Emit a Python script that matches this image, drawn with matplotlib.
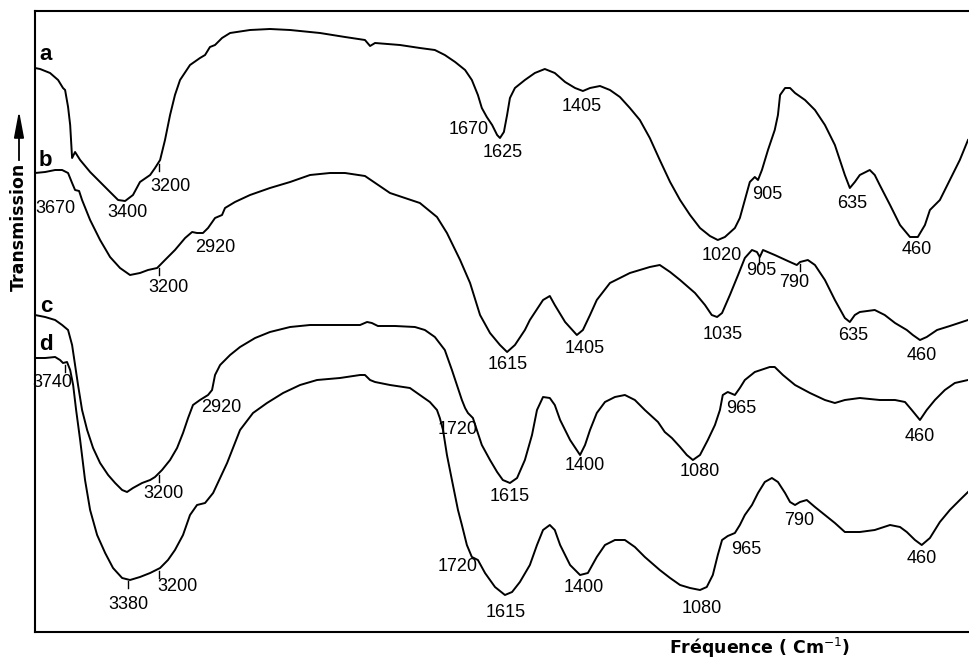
import numpy as np
import matplotlib.pyplot as plt

# --- IR spectra: wavenumber (cm-1) vs transmission (arb., curves offset) ---
wn_a = [3909, 3880, 3823, 3777, 3749, 3737, 3720, 3708, 3703, 3697, 3680, 3651, 3594, 3537,
        3480, 3434, 3394, 3349, 3309, 3251, 3223, 3194, 3166, 3137, 3109, 3080, 3023, 2966,
        2937, 2909, 2880, 2840, 2794, 2680, 2566, 2451, 2337, 2280, 2137, 2023, 1997, 1983,
        1913, 1857, 1815, 1787, 1758, 1730, 1711, 1694, 1683, 1669, 1654, 1640, 1632, 1621,
        1612, 1604, 1590, 1562, 1534, 1506, 1478, 1449, 1421, 1399, 1379, 1351, 1323, 1295,
        1267, 1239, 1211, 1183, 1154, 1126, 1098, 1070, 1042, 1020, 1000, 972, 958, 944, 930,
        916, 907, 896, 879, 860, 851, 845, 831, 817, 803, 775, 747, 719, 691, 663, 649, 635,
        621, 593, 579, 565, 536, 508, 480, 458, 438, 424, 396, 368, 340, 317]
tr_a = [564, 563, 559, 552, 544, 542, 525, 507, 492, 474, 480, 472, 460, 450,
        440, 432, 431, 437, 450, 457, 464, 472, 492, 517, 537, 552, 567, 574,
        577, 585, 587, 594, 599, 602, 603, 602, 600, 599, 595, 592, 586, 589,
        587, 584, 582, 577, 570, 562, 552, 537, 524, 515, 507, 497, 494, 500,
        517, 534, 544, 552, 559, 563, 559, 550, 544, 541, 544, 546, 542, 535,
        524, 512, 494, 472, 450, 432, 417, 404, 396, 392, 395, 404, 414, 432, 450,
        455, 452, 462, 482, 502, 517, 537, 544, 544, 539, 532, 522, 507, 487, 457, 444, 450,
        457, 462, 457, 447, 427, 407, 395, 395, 407, 422, 432, 452, 472, 492]

wn_b = [3909, 3851, 3794, 3754, 3720, 3697, 3680, 3657, 3640, 3594, 3537, 3480, 3423, 3366,
        3309, 3263, 3211, 3166, 3109, 3051, 3011, 2983, 2949, 2920, 2880, 2840, 2823, 2766,
        2680, 2566, 2451, 2337, 2223, 2137, 2023, 1941, 1857, 1809, 1781, 1744, 1716, 1688,
        1660, 1632, 1612, 1590, 1562, 1548, 1511, 1492, 1478, 1449, 1416, 1399, 1379, 1360,
        1323, 1267, 1211, 1183, 1154, 1126, 1084, 1056, 1037, 1022, 1008, 986, 963, 944, 924,
        910, 902, 893, 860, 817, 798, 789, 767, 747, 719, 691, 663, 649, 635, 621, 579, 551,
        522, 489, 472, 452, 433, 404, 368, 317]
tr_b = [459, 460, 462, 462, 459, 449, 442, 441, 432, 412, 392, 375, 364, 357,
        359, 362, 364, 372, 382, 394, 400, 399, 399, 404, 414, 417, 424, 430,
        437, 444, 450, 457, 459, 459, 456, 439, 429, 415, 399, 372, 349, 317,
        299, 287, 280, 287, 302, 312, 332, 336, 327, 310, 297, 302, 317, 332,
        349, 359, 365, 367, 360, 352, 339, 327, 317, 315, 319, 337, 357, 374, 382,
        380, 375, 382, 377, 370, 367, 370, 372, 367, 352, 332, 314, 310, 317, 320, 322, 317,
        309, 302, 297, 292, 295, 302, 306, 312]

wn_c = [3909, 3851, 3794, 3754, 3720, 3697, 3680, 3663, 3640, 3611, 3577, 3537, 3491, 3451,
        3411, 3383, 3349, 3297, 3251, 3223, 3183, 3137, 3097, 3063, 3034, 3006, 2966, 2920,
        2897, 2880, 2851, 2794, 2737, 2651, 2566, 2451, 2337, 2166, 2051, 2011, 1992, 1975,
        1927, 1871, 1843, 1815, 1787, 1767, 1753, 1739, 1730, 1722, 1708, 1697, 1683, 1660,
        1640, 1624, 1604, 1584, 1562, 1542, 1528, 1511, 1492, 1478, 1463, 1435, 1407, 1393,
        1379, 1360, 1337, 1309, 1281, 1253, 1225, 1188, 1169, 1149, 1126, 1107, 1090, 1070,
        1048, 1028, 1014, 1006, 992, 972, 958, 944, 916, 874, 860, 837, 803, 761, 719, 691,
        663, 621, 565, 522, 494, 475, 452, 433, 410, 382, 354, 317]
tr_c = [317, 315, 312, 307, 302, 287, 267, 247, 222, 202, 184, 169, 157, 149,
        142, 140, 144, 149, 152, 155, 162, 172, 184, 199, 214, 227, 232, 237,
        242, 257, 267, 277, 285, 294, 300, 305, 307, 307, 307, 310, 309, 306,
        306, 305, 302, 295, 282, 262, 247, 232, 224, 219, 214, 202, 187, 172,
        160, 152, 149, 154, 172, 197, 222, 235, 234, 227, 212, 192, 177, 187,
        202, 219, 230, 235, 237, 232, 222, 210, 200, 194, 185, 177, 172, 177,
        192, 207, 222, 237, 240, 237, 244, 252, 260, 265, 265, 257, 247, 239, 232, 229,
        232, 234, 232, 232, 230, 222, 212, 222, 232, 242, 249, 252]

wn_d = [3909, 3851, 3794, 3766, 3749, 3726, 3708, 3691, 3674, 3651, 3623, 3594, 3554, 3508,
        3463, 3411, 3366, 3309, 3251, 3194, 3149, 3109, 3063, 3023, 2983, 2937, 2891, 2811,
        2737, 2663, 2583, 2491, 2394, 2297, 2166, 2051, 2023, 1997, 1983, 1941, 1885, 1857,
        1829, 1809, 1801, 1792, 1781, 1767, 1750, 1739, 1725, 1711, 1694, 1674, 1646, 1618,
        1598, 1576, 1548, 1528, 1511, 1492, 1478, 1463, 1435, 1407, 1385, 1360, 1337, 1309,
        1281, 1253, 1225, 1183, 1154, 1126, 1098, 1070, 1051, 1034, 1020, 1008, 992, 972,
        958, 944, 924, 907, 888, 868, 851, 831, 817, 803, 789, 770, 747, 719, 691, 663, 621,
        579, 536, 508, 489, 466, 447, 424, 396, 368, 340, 317]
tr_d = [274, 274, 275, 272, 269, 270, 262, 247, 222, 192, 152, 122, 97, 79,
        64, 54, 52, 55, 59, 64, 72, 82, 97, 117, 127, 129, 139, 169,
        202, 219, 229, 239, 247, 252, 254, 257, 257, 252, 250, 247, 244, 237,
        230, 222, 214, 202, 177, 152, 122, 107, 87, 75, 72, 59, 45, 37,
        40, 50, 67, 87, 102, 107, 102, 87, 67, 57, 59, 75, 87, 92,
        92, 85, 75, 62, 54, 47, 44, 42, 45, 57, 77, 92, 96, 99,
        107, 117, 127, 139, 150, 154, 150, 139, 130, 127, 130, 132, 125, 117, 109, 100, 100,
        102, 107, 105, 100, 92, 87, 94, 110, 122, 132, 140]

names = ['a', 'b', 'c', 'd']
spectra = [(wn_a, tr_a), (wn_b, tr_b), (wn_c, tr_c), (wn_d, tr_d)]

# band positions written on each curve
bands_a = [3400, 3200, 1670, 1625, 1405, 1020, 905, 635, 460]
bands_b = [3670, 3200, 2920, 1615, 1405, 1035, 905, 790, 635, 460]
bands_c = [3200, 2920, 1720, 1615, 1400, 1080, 965, 460]
bands_d = [3740, 3380, 3200, 1720, 1615, 1400, 1080, 965, 790, 460]
bands = [bands_a, bands_b, bands_c, bands_d]
ticked = [[3200], [3200, 905, 790], [3200], [3740, 3380, 3200]]

# label offsets (pixels) from the curve point
offs = [
    [(3, -12), (11, -25), (-18, -13), (0, -18), (1, -16), (4, -16), (9, -16), (-3, -22), (0, -13)],
    [(-21, -18), (9, -21), (7, -20), (2, -14), (4, -17), (10, -19), (3, -15), (-5, -20), (-2, -20), (5, -17)],
    [(4, -21), (13, -13), (-11, -16), (4, -15), (2, -15), (3, -14), (4, -17), (3, -20)],
    [(-12, -20), (1, -25), (18, -18), (-11, -17), (0, -18), (1, -13), (5, -19), (9, -20), (0, -18), (5, -17)],
]
letter_offs = [(11, 14), (10, 13), (11, 9), (11, 13)]

# wavenumber axis: 4000-2000 compressed, 2000-0 at twice the scale
brk_wn = [0, 2000, 4000]
brk_v = [-1081, -369, -19]


def fwd(w):
    return np.interp(w, brk_wn, brk_v)


def inv(v):
    return np.interp(v, brk_v, brk_wn)


fig = plt.figure(figsize=(9.7, 6.61), dpi=100)
ax = fig.add_axes([35 / 970, 29 / 661, 933 / 970, 621 / 661])
ax.set_xscale('function', functions=(fwd, inv))
ax.set_xlim(3909, 317)
ax.set_ylim(0, 621)
ax.set_xticks([])
ax.set_yticks([])
ax.spines['right'].set_visible(False)
for s in ['left', 'top', 'bottom']:
    ax.spines[s].set_linewidth(1.5)

num_font = dict(family='Liberation Sans', fontsize=13, color='black')

for name, (wn, tr), bl, ol, tk, lo in zip(names, spectra, bands, offs, ticked, letter_offs):
    ax.plot(wn, tr, color='black', lw=1.4)
    ax.annotate(name, xy=(wn[0], tr[0]), xytext=lo, textcoords='offset pixels',
                ha='center', va='center', family='Liberation Sans', fontsize=16,
                fontweight='bold')
    w_inc = np.array(wn[::-1], dtype=float)
    t_inc = np.array(tr[::-1], dtype=float)
    for v, (dx, dy) in zip(bl, ol):
        t = np.interp(v, w_inc, t_inc)
        ax.annotate(str(v), xy=(v, t), xytext=(dx, dy), textcoords='offset pixels',
                    ha='center', va='center', **num_font)
        if v in tk:
            ax.plot([v, v], [t - 2, t - 9], color='black', lw=1.0)

# axis titles
fig.text(19 / 970, 1 - 227 / 661, 'Transmission', rotation=90, ha='center', va='center',
         family='DejaVu Sans', fontsize=12.5, fontweight='bold')
fig.add_artist(plt.Line2D([19 / 970, 19 / 970], [1 - 160 / 661, 1 - 135 / 661],
                          color='black', lw=1.3))
ax.annotate('', xy=(19, 661 - 108), xytext=(19, 661 - 140), xycoords='figure pixels',
            textcoords='figure pixels',
            arrowprops=dict(arrowstyle='-|>,head_length=1.6,head_width=0.3',
                            color='black', lw=1.3))
fig.text(760 / 970, 1 - 648 / 661, 'Fréquence ( Cm$^{-1}$)', ha='center', va='center',
         family='DejaVu Sans', fontsize=12.5, fontweight='bold')

fig.savefig('out.png', dpi=100)
